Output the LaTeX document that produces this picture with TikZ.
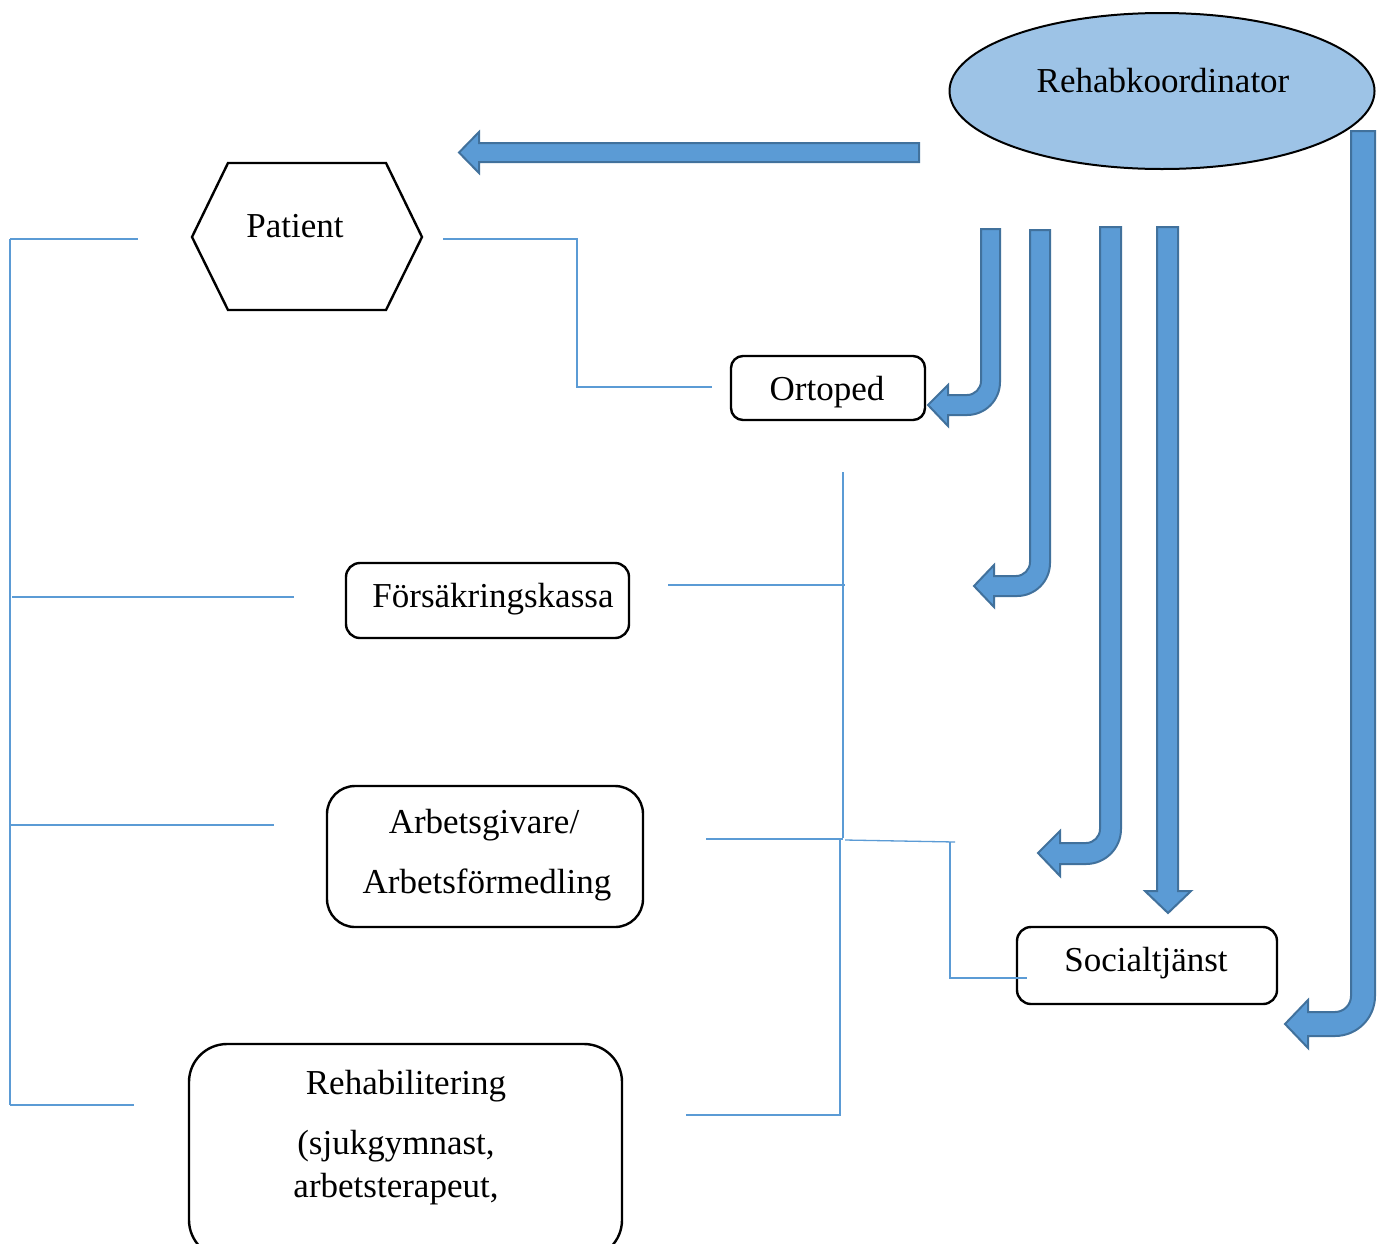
\documentclass[tikz,border=0pt]{standalone}
\usepackage{fontspec}
\setmainfont{Liberation Serif}
\usetikzlibrary{shapes.geometric}
\definecolor{arrowfill}{HTML}{5B9BD5}
\definecolor{arrowedge}{HTML}{41719C}
\definecolor{ellfill}{HTML}{9DC3E6}
\definecolor{thinblue}{HTML}{5B9BD5}
\begin{document}
\begin{tikzpicture}[x=1pt,y=-1pt,
  blockarrow/.style={fill=arrowfill, draw=arrowedge, line width=2pt, line join=miter},
  link/.style={draw=thinblue, line width=1.3pt},
  box/.style={draw=black, line width=2.4pt, fill=white, inner sep=0pt, rectangle},
  lbl/.style={font=\fontsize{35}{42}\selectfont, anchor=base, inner sep=0pt}]
\useasboundingbox[fill=white] (0,0) rectangle (1380,1243);

% ---- ellipse
\node[ellipse, draw=black, line width=2pt, fill=ellfill, minimum width=425pt, minimum height=156pt, inner sep=0pt] (rehab) at (1162,91) {};
\node[lbl] (rehabtxt) at (1163,92) {Rehabkoordinator};

% ---- hexagon
\draw[line width=2.4pt, line join=miter] (192,237) -- (228,163) -- (386,163) -- (422,237) -- (386,310) -- (228,310) -- cycle;
\node[lbl] (patient) at (295,237) {Patient};

% ---- boxes
\node[box, rounded corners=12pt, minimum width=194pt, minimum height=64pt] (ortopedbox) at (828,388) {};
\node[lbl] (ortoped) at (827,400) {Ortoped};

\node[box, rounded corners=14pt, minimum width=283pt, minimum height=75pt] (fkbox) at (487.5,600.5) {};
\node[lbl] (fk) at (493,607) {Försäkringskassa};

\node[box, rounded corners=28pt, minimum width=316pt, minimum height=141pt] (agbox) at (485,856.5) {};
\node[lbl] (ag1) at (484,833) {Arbetsgivare/};
\node[lbl] (ag2) at (487,893) {Arbetsförmedling};

\node[box, rounded corners=14pt, minimum width=260pt, minimum height=77pt] (socbox) at (1147,965.5) {};
\node[lbl] (soc) at (1146,971) {Socialtjänst};

\node[box, rounded corners=38pt, minimum width=433pt, minimum height=214pt] (rhbox) at (405.5,1151) {};
\node[lbl] (rh1) at (406,1094) {Rehabilitering};
\node[lbl] (rh2) at (396,1154) {(sjukgymnast,};
\node[lbl] (rh3) at (396,1197) {arbetsterapeut,};

% ---- block arrows
\draw[blockarrow] (919,143) -- (479,143) -- (479,132) -- (459,152.5) -- (479,173) -- (479,162) -- (919,162) -- cycle;

\draw[blockarrow] (981,229) -- (1000,229) -- (1000,382)
  .. controls (1000,400.2) and (985.2,415) .. (967,415)
  -- (948,415) -- (948,426) -- (928,405) -- (948,385) -- (948,395) -- (967,395)
  .. controls (974.7,395) and (981,388.7) .. (981,381) -- cycle;

\draw[blockarrow] (1030,230) -- (1050,230) -- (1050,563)
  .. controls (1050,581.2) and (1035.2,596) .. (1017,596)
  -- (994,596) -- (994,607) -- (974,586) -- (994,565) -- (994,576) -- (1016,576)
  .. controls (1023.7,576) and (1030,569.7) .. (1030,562) -- cycle;

\draw[blockarrow] (1100,227) -- (1121,227) -- (1121,829)
  .. controls (1121,848.3) and (1105.3,864) .. (1086,864)
  -- (1060,864) -- (1060,876) -- (1038,853) -- (1060,831) -- (1060,843) -- (1086,843)
  .. controls (1093.7,843) and (1100,836.7) .. (1100,829) -- cycle;

\draw[blockarrow] (1157,227) -- (1178,227) -- (1178,891) -- (1191,891) -- (1168,913) -- (1145,891) -- (1157,891) -- cycle;

\draw[blockarrow] (1351,131) -- (1375,131) -- (1375,996)
  .. controls (1375,1018.1) and (1357.1,1036) .. (1335,1036)
  -- (1308,1036) -- (1308,1048) -- (1285,1024) -- (1308,1000) -- (1308,1012) -- (1335,1012)
  .. controls (1343.8,1012) and (1351,1004.8) .. (1351,996) -- cycle;

% ---- thin connector lines
\coordinate (lt) at (10,239);
\coordinate (lb) at (10,1105);
\coordinate (l2) at (138,239);
\coordinate (l3a) at (12,597);
\coordinate (l3b) at (294,597);
\coordinate (l4a) at (10,825);
\coordinate (l4b) at (274,825);
\coordinate (l5) at (134,1105);
\draw[link] (lt) -- (lb);
\draw[link] (lt) -- (l2);
\draw[link] (l3a) -- (l3b);
\draw[link] (l4a) -- (l4b);
\draw[link] (lb) -- (l5);

\coordinate (p1) at (443,239);
\coordinate (p2) at (577,239);
\coordinate (p3) at (577,387);
\coordinate (p4) at (712,387);
\draw[link] (p1) -- (p2) -- (p3) -- (p4);

\coordinate (v1t) at (843,472);
\coordinate (v1b) at (843,838);
\draw[link] (v1t) -- (v1b);
\coordinate (f1) at (668,585);
\coordinate (f2) at (845,585);
\draw[link] (f1) -- (f2);
\coordinate (a1) at (706,839);
\coordinate (a2) at (843,839);
\draw[link] (a1) -- (a2);
\coordinate (v2t) at (840,840);
\coordinate (v2b) at (840,1116);
\draw[link] (v2t) -- (v2b);
\coordinate (r1) at (686,1115);
\coordinate (r2) at (840,1115);
\draw[link] (r1) -- (r2);
\coordinate (s1) at (845,840);
\coordinate (s2) at (955,842);
\draw[link] (s1) -- (s2);
\coordinate (s3) at (950,842);
\coordinate (s4) at (950,978);
\coordinate (s5) at (1027,978);
\draw[link] (s3) -- (s4) -- (s5);
\end{tikzpicture}
\end{document}
